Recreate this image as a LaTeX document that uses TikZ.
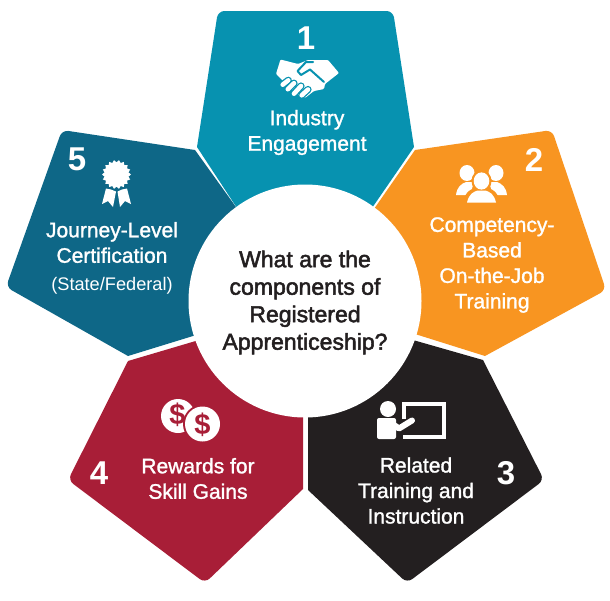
\documentclass[tikz,border=0pt]{standalone}
\usepackage{fontspec}
\setmainfont{Liberation Sans}
\newfontfamily\medfont[FakeBold=1.4]{Liberation Sans}
\newfontfamily\headfont[FakeBold=2.2]{Liberation Sans}
\definecolor{cteal}{HTML}{0792B0}
\definecolor{corange}{HTML}{F89521}
\definecolor{cblack}{HTML}{231F20}
\definecolor{ccrimson}{HTML}{A81E37}
\definecolor{cblue}{HTML}{0E6787}
\tikzset{
  x=1pt,y=-1pt,
  num/.style={text=white,inner sep=0pt,font=\fontsize{33}{33}\selectfont\bfseries},
  lab/.style={text=white,inner sep=0pt,align=center,font=\fontsize{21}{25.5}\selectfont\medfont},
  small/.style={text=white,inner sep=0pt,font=\fontsize{18.2}{20}\selectfont},
  dollar/.style={text=ccrimson,inner sep=0pt,font=\fontsize{29}{29}\selectfont\bfseries},
  centertext/.style={text=cblack,inner sep=0pt,align=center,font=\fontsize{23}{27.5}\selectfont\headfont},
  icon/.style={fill=white,draw=none},
  corner/.style={rounded corners=6.5pt},
  fingergap/.style={cteal,line width=7.2pt,line cap=round},
  finger/.style={white,line width=4.6pt,line cap=round}
}
\begin{document}
\begin{tikzpicture}
\useasboundingbox (0,0) rectangle (610,600);
% segments
\fill[cteal] (414,147) -- (372,208) -- (305,301) -- (237,208) -- (197,147) [corner] -- (218,11) -- (393,11) [sharp corners] -- cycle;
\fill[corange] (374,209) -- (415,150) [corner] -- (552,130) -- (606,290) [sharp corners] -- (485,356) -- (415,334) -- (305,301) -- cycle;
\fill[cblack] (308,417) -- (305,301) -- (413,340) -- (483,360) [corner] -- (544,480) -- (407,583) [sharp corners] -- (308,490) -- cycle;
\fill[ccrimson] (303,417) -- (303,489) [corner] -- (205,583) -- (68,480) [sharp corners] -- (128,361) -- (199,340) -- (305,301) -- cycle;
\fill[cblue] (236,207) -- (195,150) [corner] -- (62,130) -- (6,287) [sharp corners] -- (128,356) -- (193,336) -- (305,301) -- cycle;
% hub
\node[circle,fill=white,minimum size=233pt,inner sep=0pt] (hub) at (305,301) {};
\node[centertext] (question) at (305,302.5) {What are the\\components of\\Registered\\Apprenticeship?};
% numbers and labels
\node[num] (n1) at (306,38) {1};
\node[lab] (l1) at (307,132.5) {Industry\\Engagement};
\node[num] (n2) at (534,160) {2};
\node[lab] (l2) at (492,265) {Competency-\\Based\\On-the-Job\\Training};
\node[num] (n3) at (506,473) {3};
\node[lab] (l3) at (416,490.5) {Related\\Training and\\Instruction};
\node[num] (n4) at (99,473) {4};
\node[lab] (l4) at (198,478.5) {Rewards for\\Skill Gains};
\node[num] (n5) at (77,159) {5};
\node[lab] (l5) at (112,242.5) {Journey-Level\\Certification};
\node[small] (l5b) at (112,285.5) {(State/Federal)};
% handshake
\fill[icon,rounded corners=1pt] (280.5,59.5) -- (298,64) -- (308,60) -- (328,60) -- (339,73) -- (325,84) -- (324,89) -- (314,91) -- (305,98) -- (297,94) -- (284,82) -- (276,74) -- cycle;
\draw[cteal,line width=2pt,line cap=round,line join=round] (313,62) -- (306,62) -- (297.5,71) -- (301,75) -- (310,69.5) -- (324,82);
\draw[fingergap] (282.7,84.7) -- (288.3,80.3);
\draw[finger] (282.7,84.7) -- (288.3,80.3);
\draw[fingergap] (287.8,89.2) -- (294,83.2);
\draw[finger] (287.8,89.2) -- (294,83.2);
\draw[fingergap] (294,93.7) -- (301,86);
\draw[finger] (294,93.7) -- (301,86);
\draw[fingergap] (301.7,95.3) -- (308,89.5);
\draw[finger] (301.7,95.3) -- (308,89.5);
% rosette
\begin{scope}[shift={(116.5,174.5)}]
\fill[icon] (0:14.5) \foreach \a in {0,20,...,340}{ -- (\a:14.5) -- (\a+10:12.2) } -- cycle;
\end{scope}
\fill[icon] (106,188.5) -- (102,204) -- (108,201) -- (113,207) -- (116,191.5) -- (111,189.5) -- cycle;
\fill[icon] (127,188.5) -- (131,204) -- (125,201) -- (120,207) -- (117.5,191.5) -- (122,189.5) -- cycle;
% people
\fill[icon] (467,173) ellipse (7.5 and 8);
\fill[icon] (496,173) ellipse (7.5 and 8);
\fill[icon] (456,195) .. controls (457,187) and (461,184) .. (466,182) -- (474,182) -- (470,195) -- cycle;
\fill[icon] (507,195) .. controls (506,187) and (502,184) .. (497,182) -- (489,182) -- (493,195) -- cycle;
\fill[corange] (481.5,181) ellipse (10 and 11);
\fill[corange] (463,203) .. controls (465,191) and (471,188) .. (481.5,187) .. controls (492,188) and (498,191) .. (500,203) -- cycle;
\fill[icon] (481.5,181) ellipse (7.8 and 8.6);
\fill[icon] (467,202.5) .. controls (469,194) and (473,192) .. (477.5,190.5) -- (485.5,190.5) .. controls (490,192) and (494,194) .. (496,202.5) -- cycle;
% coins
\fill[icon] (178,416) circle (17);
\node[dollar] (d1) at (177.5,415) {\$};
\fill[ccrimson] (202.5,424) circle (19.5);
\fill[icon] (202.5,424) circle (17.5);
\node[dollar] (d2) at (202.5,424.5) {\$};
% teacher and board
\fill[icon] (388,409) circle (8);
\fill[icon,rounded corners=2pt] (377,439) -- (377,418) -- (396,418) -- (396,439) -- cycle;
\draw[white,line width=6pt,line cap=round,line join=round] (394,425) -- (399,428.5) -- (412,420.5);
\draw[white,line width=4pt] (404,419) -- (404,404) -- (444,404) -- (444,437) -- (403,437);
\end{tikzpicture}
\end{document}
